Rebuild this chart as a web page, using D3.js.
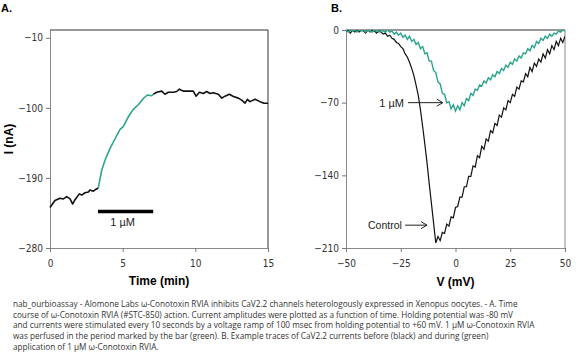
<!DOCTYPE html>
<html>
<head>
<meta charset="utf-8">
<script src="https://cdn.jsdelivr.net/npm/d3@7"></script>
<style>
  body { margin: 0; background: #fff; }
  svg { display: block; }
  .tick text { font-family: "Liberation Sans Narrow", "DejaVu Sans Condensed", sans-serif; font-size: 10px; fill: #333; }
  .tick line { stroke: #777; }
  .domain { stroke: #888; }
</style>
</head>
<body>
<div id="chart"></div>
<script>
"use strict";

// Panel A: time course (min, nA)
var baseTime = [0, 0.34, 0.69, 0.92, 1.15, 1.38, 1.56, 1.72, 2.02, 2.18, 2.41, 2.64, 2.75, 2.98, 3.17, 3.32];
var baseCurrent = [-228, -219, -216, -217, -214, -217, -223.5, -218, -210.5, -212, -209, -208, -205.5, -207, -204.5, -203];
var drugTime = [3.32, 3.56, 3.79, 4.13, 4.47, 4.82, 5.04, 5.39, 5.73, 6.08, 6.42, 6.70, 7.0, 7.11];
var drugCurrent = [-203, -180, -167, -152, -140, -127.5, -124, -111.5, -102, -96, -88, -83.5, -84.5, -82.5];
var washTime = [7.11, 7.34, 7.69, 7.91, 8.14, 8.49, 8.72, 8.90, 9.17, 9.52, 9.86, 10.05, 10.28, 10.55, 10.78,
  11.01, 11.24, 11.58, 11.82, 12.04, 12.34, 12.62, 12.96, 13.19, 13.42, 13.58, 13.76, 14.11, 14.45, 14.73, 15.0];
var washCurrent = [-82.5, -80, -78.5, -82.5, -80, -80, -79, -76, -78.5, -78.5, -78.5, -85, -80, -81.5, -79,
  -81.5, -80.5, -82.5, -87.5, -85, -82.5, -85.5, -87.5, -90, -94, -89, -92, -89, -92, -94, -94];
var barSpan = [3.3, 7.1];
var barLevel = -233;
var aTicksX = [0, 5, 10, 15];
var aTicksY = [-10, -100, -190, -280];

// Panel B: I-V traces (mV, nA)
var voltage = [-50, -49, -48, -47, -46, -45, -44, -43, -42, -41, -40, -39, -38, -37, -36, -35, -34, -33, -32, -31,
  -30, -29, -28, -27, -26, -25, -24, -23, -22, -21, -20, -19, -18, -17, -16, -15, -14, -13, -12, -11,
  -10, -9, -8, -7, -6, -5, -4, -3, -2, -1, 0, 1, 2, 3, 4, 5, 6, 7, 8, 9,
  10, 11, 12, 13, 14, 15, 16, 17, 18, 19, 20, 21, 22, 23, 24, 25, 26, 27, 28, 29,
  30, 31, 32, 33, 34, 35, 36, 37, 38, 39, 40, 41, 42, 43, 44, 45, 46, 47, 48, 49, 50];
var controlI = [-1, 0, -3, 0, -2, -0.5, -2, 0, -1, -3, 0, -2, -0.5, -1, -3, -1, -2, -4, -3, -6,
  -5, -8, -9, -12, -13, -16, -18, -23, -26, -31, -37, -44, -53, -63, -77, -93, -110, -128, -148, -167,
  -186, -205, -199, -203, -195, -196, -187, -189, -180, -181, -171, -170, -161, -161, -151, -151, -141, -141, -131, -132,
  -121, -123, -112, -115, -105, -107, -97, -99, -90, -92, -82, -84, -75, -77, -68, -70, -62, -64, -55, -57,
  -49, -50, -42, -45, -36, -40, -32, -35, -28, -31, -23, -27, -19, -23, -15, -19, -11, -15, -8, -12, -6];
var drugI = [0, -2, 0, -1, 0, -2, 0, -1, 0, -2, 0, -1, -2, 0, -1, -2, 0, -1, -2, 0,
  -2, -1, -4, -2, -5, -3, -7, -5, -9, -6, -11, -9, -14, -12, -18, -16, -23, -22, -30, -30,
  -39, -41, -50, -52, -61, -62, -70, -69, -76, -72, -78, -73, -77, -70, -73, -66, -68, -61, -63, -57,
  -58, -53, -54, -49, -51, -46, -48, -43, -45, -40, -42, -37, -39, -34, -36, -31, -33, -28, -30, -25,
  -27, -22, -23, -18, -20, -15, -17, -11, -13, -8, -10, -6, -8, -4, -6, -3, -4, -1, -2, 0, -1];
var bTicksX = [-50, -25, 0, 25, 50];
var bTicksY = [0, -70, -140, -210];

var black = "#111";
var green = "#2aa58b";

var svg = d3.select("#chart").append("svg")
  .attr("width", 588)
  .attr("height", 361)
  .style("font-family", "'Liberation Sans', Arial, sans-serif");

// ---------- Panel A ----------
var xa = d3.scaleLinear().domain([0, 15]).range([50, 268]);
var ya = d3.scaleLinear().domain([-280, 0]).range([248, 30]);

svg.append("g")
  .attr("transform", "translate(0,248)")
  .call(d3.axisBottom(xa).tickValues(aTicksX).tickSizeInner(4).tickSizeOuter(0).tickPadding(8));
svg.append("g")
  .attr("transform", "translate(50,0)")
  .call(d3.axisLeft(ya).tickValues(aTicksY).tickSizeInner(4).tickSizeOuter(0).tickPadding(3));

svg.append("path")
  .attr("d", "M" + xa(0) + "," + ya(0) + "H" + xa(15) + "V" + ya(-280))
  .attr("fill", "none").attr("stroke", "#333").attr("stroke-width", 1);

var lineA = d3.line().x(function(d) { return xa(d[0]); }).y(function(d) { return ya(d[1]); });
var segs = [
  {t: baseTime, v: baseCurrent, c: black},
  {t: drugTime, v: drugCurrent, c: green},
  {t: washTime, v: washCurrent, c: black}
];
segs.forEach(function(s) {
  svg.append("path")
    .datum(d3.zip(s.t, s.v))
    .attr("d", lineA)
    .attr("fill", "none")
    .attr("stroke", s.c)
    .attr("stroke-width", 1.6)
    .attr("stroke-linejoin", "round");
});

svg.append("line")
  .attr("x1", xa(barSpan[0])).attr("x2", xa(barSpan[1]))
  .attr("y1", ya(barLevel)).attr("y2", ya(barLevel))
  .attr("stroke", "#000").attr("stroke-width", 3.5);
svg.append("text")
  .attr("x", xa((barSpan[0] + barSpan[1]) / 2) - 3).attr("y", 226)
  .attr("text-anchor", "middle")
  .style("font-family", "'Liberation Sans Narrow', sans-serif").style("font-size", "11px")
  .attr("fill", "#222")
  .text("1 µM");

svg.append("text").attr("x", 1).attr("y", 12)
  .style("font-size", "11px").style("font-weight", "bold").text("A.");
svg.append("text").attr("x", xa(7.5)).attr("y", 285)
  .attr("text-anchor", "middle").style("font-size", "12px").style("font-weight", "bold")
  .text("Time (min)");
svg.append("text")
  .attr("transform", "translate(13," + ya(-140) + ") rotate(-90)")
  .attr("text-anchor", "middle").style("font-size", "12px").style("font-weight", "bold")
  .text("I (nA)");

// ---------- Panel B ----------
var xb = d3.scaleLinear().domain([-50, 50]).range([346, 565]);
var yb = d3.scaleLinear().domain([-210, 0]).range([248, 30]);

svg.append("defs").append("clipPath").attr("id", "clipB")
  .append("rect").attr("x", xb(-50)).attr("y", yb(0))
  .attr("width", xb(50) - xb(-50)).attr("height", yb(-210) - yb(0));

svg.append("g")
  .attr("transform", "translate(0,248)")
  .call(d3.axisBottom(xb).tickValues(bTicksX).tickSizeInner(4).tickSizeOuter(0).tickPadding(8));
svg.append("g")
  .attr("transform", "translate(346,0)")
  .call(d3.axisLeft(yb).tickValues(bTicksY).tickSizeInner(4).tickSizeOuter(0).tickPadding(3));

svg.append("line")
  .attr("x1", xb(-50)).attr("x2", xb(50)).attr("y1", yb(0)).attr("y2", yb(0))
  .attr("stroke", "#333");
svg.append("line")
  .attr("x1", xb(50)).attr("x2", xb(50)).attr("y1", yb(0)).attr("y2", yb(-210))
  .attr("stroke", "#888");

var lineB = d3.line().x(function(d) { return xb(d[0]); }).y(function(d) { return yb(d[1]); });
var traces = svg.append("g").attr("clip-path", "url(#clipB)");
traces.append("path")
  .datum(d3.zip(voltage, controlI))
  .attr("d", lineB).attr("fill", "none").attr("stroke", black).attr("stroke-width", 1.2);
traces.append("path")
  .datum(d3.zip(voltage, drugI))
  .attr("d", lineB).attr("fill", "none").attr("stroke", green).attr("stroke-width", 1.4);

function arrow(x1, x2, y) {
  svg.append("line").attr("x1", x1).attr("x2", x2).attr("y1", y).attr("y2", y)
    .attr("stroke", "#222").attr("stroke-width", 1);
  svg.append("path")
    .attr("d", "M" + (x2 - 6) + "," + (y - 3.5) + "L" + x2 + "," + y + "L" + (x2 - 6) + "," + (y + 3.5))
    .attr("fill", "none").attr("stroke", "#222").attr("stroke-width", 1);
}
arrow(xb(-21.7), xb(-5.8), yb(-70));
arrow(xb(-23), xb(-13), yb(-188));
svg.append("text").attr("x", xb(-23.5)).attr("y", yb(-70) + 4)
  .attr("text-anchor", "end")
  .style("font-family", "'Liberation Sans Narrow', sans-serif").style("font-size", "11px").attr("fill", "#222")
  .text("1 µM");
svg.append("text").attr("x", xb(-24.5)).attr("y", yb(-188) + 4)
  .attr("text-anchor", "end")
  .style("font-family", "'Liberation Sans Narrow', sans-serif").style("font-size", "10.5px").attr("fill", "#222")
  .text("Control");

svg.append("text").attr("x", 331).attr("y", 12)
  .style("font-size", "11px").style("font-weight", "bold").text("B.");
svg.append("text").attr("x", xb(0)).attr("y", 286)
  .attr("text-anchor", "middle").style("font-size", "12px").style("font-weight", "bold")
  .text("V (mV)");

// ---------- Caption ----------
var captionLines = [
  "nab_ourbioassay - Alomone Labs ω-Conotoxin RVIA inhibits CaV2.2 channels heterologously expressed in Xenopus oocytes. - A. Time",
  "course of ω-Conotoxin RVIA (#STC-850) action. Current amplitudes were plotted as a function of time. Holding potential was -80 mV",
  "and currents were stimulated every 10 seconds by a voltage ramp of 100 msec from holding potential to +60 mV. 1 µM ω-Conotoxin RVIA",
  "was perfused in the period marked by the bar (green). B. Example traces of CaV2.2 currents before (black) and during (green)",
  "application of 1 µM ω-Conotoxin RVIA."
];
var cap = svg.append("g")
  .style("font-family", "'Open Sans', 'DejaVu Sans', sans-serif")
  .style("font-size", "10px")
  .attr("fill", "#333");
var capText = captionLines.map(function(line, i) {
  return cap.append("text")
    .attr("x", 13)
    .attr("y", 307 + i * 10.7)
    .text(line);
});
// size the caption so the first line spans about 505px
var w0 = capText[0].node().getComputedTextLength();
cap.style("font-size", (10 * 505 / w0).toFixed(2) + "px");
</script>
</body>
</html>
